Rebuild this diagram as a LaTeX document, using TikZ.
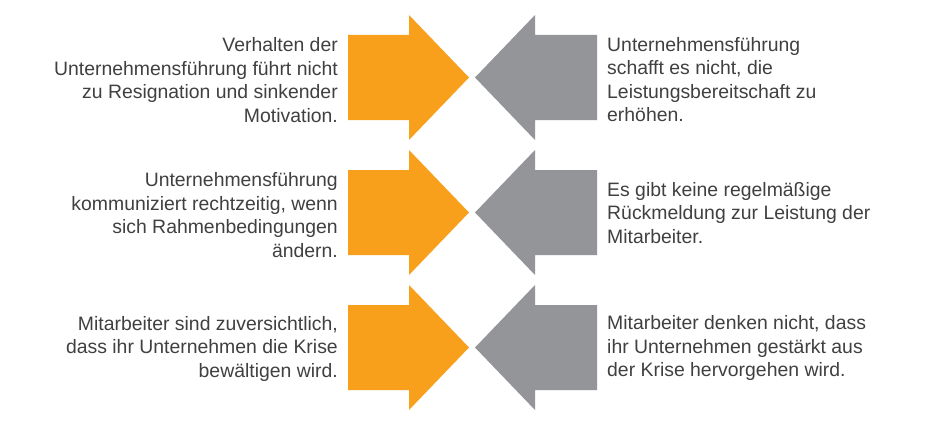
\documentclass[tikz,border=0pt]{standalone}
\usepackage{fontspec}
\setmainfont{Liberation Sans}
\definecolor{arroworange}{HTML}{F8A01C}
\definecolor{arrowgray}{HTML}{939598}
\definecolor{txtgray}{HTML}{404040}
\begin{document}
\begin{tikzpicture}[x=1pt,y=-1pt,
  orangearrow/.style={fill=arroworange},
  grayarrow/.style={fill=arrowgray},
  lefttext/.style={anchor=east,align=right,inner sep=0pt,text=txtgray,
    font=\fontsize{19.4}{23.5}\selectfont},
  righttext/.style={anchor=west,align=left,inner sep=0pt,text=txtgray,
    font=\fontsize{19.4}{23.5}\selectfont}]
\useasboundingbox[fill=white] (0,0) rectangle (941,420);
\foreach \c in {77.5,212.5,347.5}{
  \fill[orangearrow] (348,\c-42.5) -- (409,\c-42.5) -- (409,\c-62.5) -- (469,\c)
    -- (409,\c+62.5) -- (409,\c+42.5) -- (348,\c+42.5) -- cycle;
  \fill[grayarrow] (597,\c-42.5) -- (535,\c-42.5) -- (535,\c-62.5) -- (475,\c)
    -- (535,\c+62.5) -- (535,\c+42.5) -- (597,\c+42.5) -- cycle;
}
\node[lefttext] (l1) at (338,80) {Verhalten der\\Unternehmensführung führt nicht\\zu Resignation und sinkender\\Motivation.};
\node[righttext] (r1) at (607,79.7) {Unternehmensführung\\schafft es nicht, die\\Leistungsbereitschaft zu\\erhöhen.};
\node[lefttext] (l2) at (338,215) {Unternehmensführung\\kommuniziert rechtzeitig, wenn\\sich Rahmenbedingungen\\ändern.};
\node[righttext] (r2) at (607,213) {Es gibt keine regelmäßige\\Rückmeldung zur Leistung der\\Mitarbeiter.};
\node[lefttext] (l3) at (338,348.5) {Mitarbeiter sind zuversichtlich,\\dass ihr Unternehmen die Krise\\bewältigen wird.};
\node[righttext] (r3) at (607,348.3) {Mitarbeiter denken nicht, dass\\ihr Unternehmen gestärkt aus\\der Krise hervorgehen wird.};
\end{tikzpicture}
\end{document}
